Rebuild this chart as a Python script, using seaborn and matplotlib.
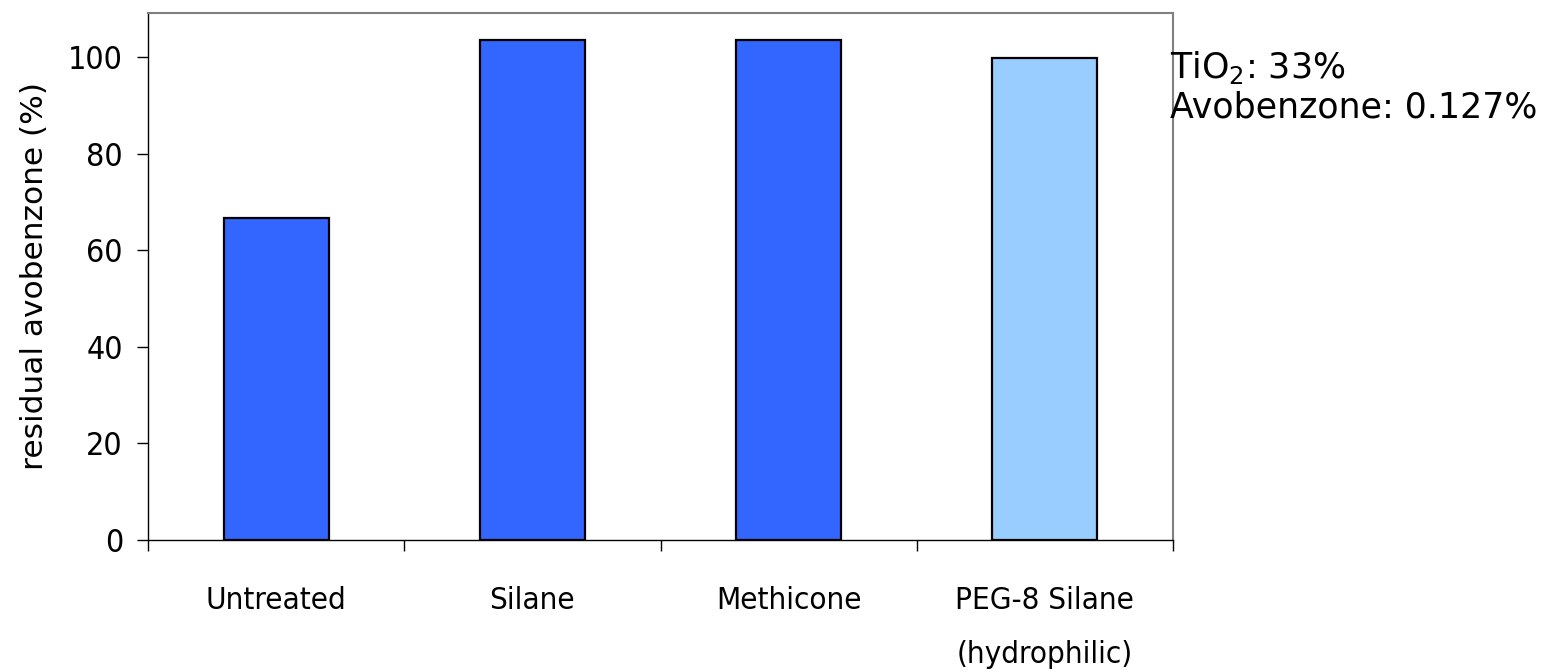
import matplotlib
matplotlib.use("Agg")
import matplotlib.pyplot as plt
import seaborn as sns
import pandas as pd

categories = ["Untreated", "Silane", "Methicone", "PEG-8 Silane\n(hydrophilic)"]
residual = [66.7, 103.5, 103.5, 99.8]
bar_colors = ["#3366FF", "#3366FF", "#3366FF", "#99CCFF"]
y_ticks = [0, 20, 40, 60, 80, 100]
note_lines = ["TiO$_2$: 33%", "Avobenzone: 0.127%"]

sns.set_style("white")
plt.rcParams["font.family"] = ["DejaVu Sans"]
plt.rcParams["mathtext.fontset"] = "dejavusans"
for key in ["text.color", "axes.labelcolor", "xtick.color", "ytick.color"]:
    plt.rcParams[key] = "black"

df = pd.DataFrame({"treatment": categories, "residual": residual})

W, H, DPI = 1541, 672, 100
fig = plt.figure(figsize=(W / DPI, H / DPI), dpi=DPI)
ax = fig.add_axes([148 / W, 1 - 540 / H, (1173 - 148) / W, (540 - 13) / H])

sns.barplot(data=df, x="treatment", y="residual", hue="treatment",
            palette=bar_colors, width=0.41, edgecolor="black",
            linewidth=1.6, legend=False, ax=ax, saturation=1)

ax.set_xlim(-0.5, len(categories) - 0.5)
ax.set_ylim(0, 109.1)
ax.set_yticks(y_ticks)
ax.set_xlabel("")
ax.set_ylabel("residual avobenzone (%)", fontsize=22.5, labelpad=14)

for lab in ax.get_yticklabels():
    lab.set_fontstretch("condensed")
    lab.set_fontsize(23)
for lab in ax.get_xticklabels():
    lab.set_fontstretch("condensed")
    lab.set_fontsize(22.5)
    lab.set_linespacing(2.1)

# category separators on the x axis
ax.set_xticks([i - 0.5 for i in range(len(categories) + 1)], minor=True)
ax.tick_params(axis="x", which="major", length=0, pad=33)
ax.tick_params(axis="x", which="minor", length=8, width=1, color="black", direction="out", bottom=True)
ax.tick_params(axis="y", which="major", length=8, width=1, color="black", direction="out", left=True, pad=10)

for side in ["left", "bottom"]:
    ax.spines[side].set_color("black")
    ax.spines[side].set_linewidth(1)
for side in ["top", "right"]:
    ax.spines[side].set_color("#808080")
    ax.spines[side].set_linewidth(1.5)

fig.text(1170 / W, 1 - 78 / H, note_lines[0], fontsize=25, va="baseline", ha="left")
fig.text(1170 / W, 1 - 117 / H, note_lines[1], fontsize=25, va="baseline", ha="left")

fig.savefig("out.png", dpi=DPI)
